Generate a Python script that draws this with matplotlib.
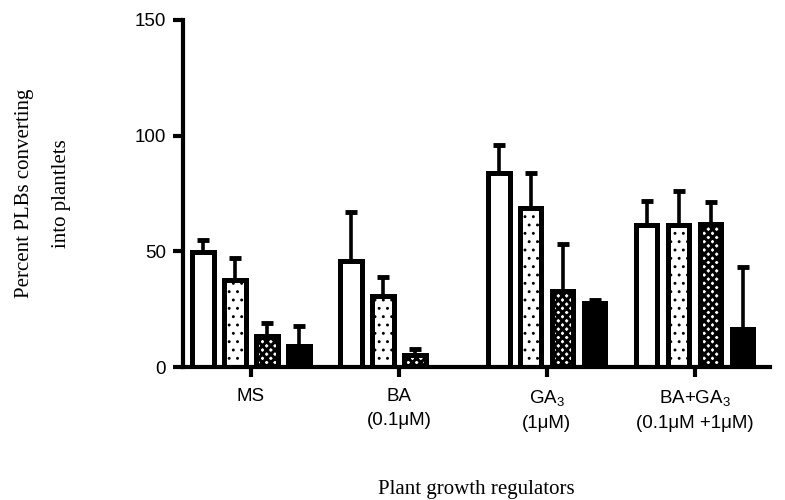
import numpy as np
import matplotlib as mpl
import matplotlib.pyplot as plt

plt.rcParams['font.family'] = 'Liberation Sans'
plt.rcParams['mathtext.fontset'] = 'custom'
plt.rcParams['mathtext.rm'] = 'Liberation Sans'
plt.rcParams['mathtext.it'] = 'Liberation Sans'

# tratamientos y medias (%) con su error (solo hacia arriba)
grupos = ['MS', 'BA\n(0.1\u03bcM)', 'GA$_3$\n(1\u03bcM)', 'BA+GA$_3$\n(0.1\u03bcM +1\u03bcM)']
serie_1 = [49.5, 45.8, 83.7, 61.3]
serie_2 = [37.6, 30.7, 68.6, 61.3]
serie_3 = [13.5, 5.0, 32.9, 61.8]
serie_4 = [9.2, 0.0, 27.8, 16.3]
err_1 = [5.5, 21.1, 12.1, 10.6]
err_2 = [9.4, 8.3, 15.4, 14.7]
err_3 = [5.5, 2.9, 20.3, 9.4]
err_4 = [8.7, 0.0, 1.2, 26.9]

series = [serie_1, serie_2, serie_3, serie_4]
errores = [err_1, err_2, err_3, err_4]
# (relleno, trama, grosor de trama)
rellenos = [('white', '', 1.0), ('white', '..', 0.9), ('white', 'xxxx', 2.2), ('black', '', 1.0)]

fig = plt.figure(figsize=(7.85, 5), dpi=100)
ax = fig.add_axes([0.233, 0.266, 0.748, 0.694])

x = np.arange(len(grupos))
paso = 0.216
ancho = 0.145
for j, (vals, errs) in enumerate(zip(series, errores)):
	pos = x + (j - 1.5) * paso
	color, hatch, hlw = rellenos[j]
	with mpl.rc_context({'hatch.linewidth': hlw}):
		ax.bar(pos, vals, width=ancho, color=color, edgecolor='black',
			linewidth=3.6, hatch=hatch, zorder=2)
	vals = np.array(vals)
	errs = np.array(errs)
	m = errs > 0
	ax.errorbar(pos[m], vals[m], yerr=[np.zeros(m.sum()), errs[m]], fmt='none',
		ecolor='black', elinewidth=2.6, capsize=4, capthick=3.5, zorder=1)

ax.set_xlim(-0.46, 3.51)
ax.set_ylim(0, 150)
ax.set_yticks([0, 50, 100, 150])
ax.set_xticks(x)
ax.set_xticklabels(grupos, linespacing=1.55)

for s in ['top', 'right']:
	ax.spines[s].set_visible(False)
for s in ['left', 'bottom']:
	ax.spines[s].set_linewidth(3)
ax.tick_params(axis='both', width=3, length=7, labelsize=13.5, direction='out')
ax.tick_params(axis='x', pad=8)
ax.tick_params(axis='y', pad=5)

ax.set_ylabel('Percent PLBs converting\ninto plantlets', family='Liberation Serif',
	fontsize=15, linespacing=2.3)
ax.yaxis.set_label_coords(-0.19, 0.5)
ax.set_xlabel('Plant growth regulators', family='Liberation Serif', fontsize=15)
ax.xaxis.set_label_coords(0.5, -0.325)

fig.savefig('out.png', dpi=100)
